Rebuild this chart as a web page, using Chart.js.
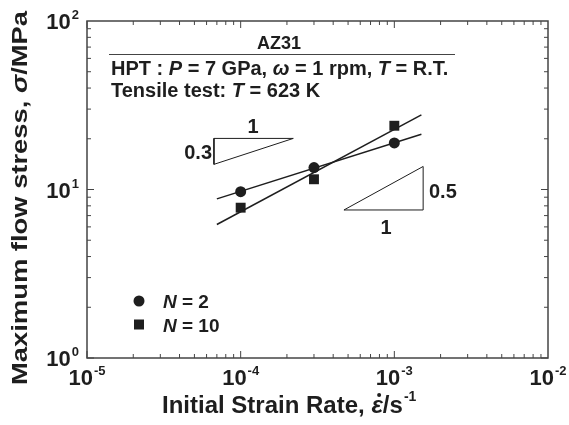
<!DOCTYPE html>
<html>
<head>
<meta charset="utf-8">
<script src="https://cdn.jsdelivr.net/npm/chart.js@4.4.1/dist/chart.umd.min.js"></script>
<style>
  html, body { margin: 0; padding: 0; background: #fff; }
  #wrap { width: 569px; height: 425px; }
</style>
</head>
<body>
<div id="wrap"><canvas id="myChart" width="569" height="425"></canvas></div>
<script>
// strain rates (s^-1) and maximum flow stress (MPa)
let rates = [1e-4, 3e-4, 1e-3];
let stressN2 = [9.7, 13.5, 18.9];
let stressN10 = [7.8, 11.5, 23.9];

// fitted lines
let fitRates = [7e-5, 1.5e-3];
let fitN2 = [8.8, 21.3];
let fitN10 = [6.2, 27.7];

// slope triangles
let tri03X = [6.7e-5, 2.2e-4, 6.7e-5, 6.7e-5];
let tri03Y = [14.1, 20.1, 20.1, 14.1];
let tri05X = [4.7e-4, 1.54e-3, 1.54e-3, 4.7e-4];
let tri05Y = [7.56, 7.56, 13.7, 7.56];

// axis decades
let xExp = [-5, -4, -3, -2];
let yExp = [0, 1, 2];

const ink = '#1e1e1e';
const FONT = '"Liberation Sans", Arial, sans-serif';

function pts(xs, ys) {
    return xs.map((x, i) => ({ x: x, y: ys[i] }));
}

// draw a run of [text, italic] parts, returns width
function runWidth(ctx, parts, size) {
    let w = 0;
    parts.forEach(p => {
        ctx.font = (p[1] ? 'italic ' : '') + 'bold ' + size + 'px ' + FONT;
        w += ctx.measureText(p[0]).width;
    });
    return w;
}
function drawRun(ctx, parts, x, y, size) {
    ctx.textAlign = 'left';
    parts.forEach(p => {
        ctx.font = (p[1] ? 'italic ' : '') + 'bold ' + size + 'px ' + FONT;
        ctx.fillText(p[0], x, y);
        x += ctx.measureText(p[0]).width;
    });
    return x;
}

function powLabel(ctx, e, x, y, align) {
    ctx.font = 'bold 22px ' + FONT;
    let wb = ctx.measureText('10').width;
    ctx.font = 'bold 13px ' + FONT;
    let we = ctx.measureText(String(e)).width;
    let total = wb + we + 1;
    let x0 = align === 'center' ? x - total / 2 : x - total;
    ctx.textAlign = 'left';
    ctx.font = 'bold 22px ' + FONT;
    ctx.fillText('10', x0, y);
    ctx.font = 'bold 13px ' + FONT;
    ctx.fillText(String(e), x0 + wb + 1, y - 10);
}

const decor = {
    id: 'decor',
    afterDatasetsDraw(chart) {
        const ctx = chart.ctx;
        const a = chart.chartArea;
        const xs = chart.scales.x, ys = chart.scales.y;
        ctx.save();

        // frame
        ctx.strokeStyle = '#444';
        ctx.lineWidth = 1.5;
        ctx.strokeRect(a.left, a.top, a.right - a.left, a.bottom - a.top);

        // inward ticks on all four sides
        ctx.lineWidth = 1;
        ctx.beginPath();
        for (let e = xExp[0]; e < xExp[xExp.length - 1]; e++) {
            for (let m = 1; m <= 9; m++) {
                let px = xs.getPixelForValue(m * Math.pow(10, e));
                let len = m === 1 ? 7 : 4;
                ctx.moveTo(px, a.bottom); ctx.lineTo(px, a.bottom - len);
                ctx.moveTo(px, a.top); ctx.lineTo(px, a.top + len);
            }
        }
        for (let e = yExp[0]; e < yExp[yExp.length - 1]; e++) {
            for (let m = 1; m <= 9; m++) {
                let py = ys.getPixelForValue(m * Math.pow(10, e));
                let len = m === 1 ? 7 : 4;
                ctx.moveTo(a.left, py); ctx.lineTo(a.left + len, py);
                ctx.moveTo(a.right, py); ctx.lineTo(a.right - len, py);
            }
        }
        ctx.stroke();

        ctx.fillStyle = ink;
        xExp.forEach(e => powLabel(ctx, e, xs.getPixelForValue(Math.pow(10, e)), 385, 'center'));
        yExp.forEach(e => powLabel(ctx, e, 79, ys.getPixelForValue(Math.pow(10, e)) + 8, 'right'));

        // x axis title
        let x = drawRun(ctx, [['Initial Strain Rate, ', false]], 162, 413, 24);
        ctx.font = 'italic bold 24px ' + FONT;
        let ew = ctx.measureText('\u03b5').width;
        ctx.fillText('\u03b5', x, 413);
        ctx.beginPath();
        ctx.arc(x + ew / 2 + 2, 395, 2, 0, Math.PI * 2);
        ctx.fill();
        x = drawRun(ctx, [['/s', false]], x + ew, 413, 24);
        ctx.font = 'bold 14px ' + FONT;
        ctx.fillText('-1', x + 1, 401);

        // y axis title, stretched along its length
        const yParts = [['Maximum flow stress, ', false], ['\u03c3', true], ['/MPa', false]];
        let yw = runWidth(ctx, yParts, 22);
        ctx.save();
        ctx.translate(27, 385);
        ctx.rotate(-Math.PI / 2);
        ctx.scale(374 / yw, 1);
        drawRun(ctx, yParts, 0, 0, 22);
        ctx.restore();

        // header
        ctx.font = 'bold 18px ' + FONT;
        ctx.textAlign = 'center';
        ctx.fillText('AZ31', 279, 49);
        ctx.lineWidth = 1;
        ctx.beginPath();
        ctx.moveTo(109, 54.5); ctx.lineTo(455, 54.5);
        ctx.stroke();
        drawRun(ctx, [['HPT : ', false], ['P', true], [' = 7 GPa, ', false], ['\u03c9', true],
            [' = 1 rpm, ', false], ['T', true], [' = R.T.', false]], 111, 75, 20);
        drawRun(ctx, [['Tensile test: ', false], ['T', true], [' = 623 K', false]], 111, 97, 20);

        // slope labels
        ctx.font = 'bold 20px ' + FONT;
        ctx.textAlign = 'center';
        ctx.fillText('1', 253, 133);
        ctx.fillText('1', 386, 234);
        ctx.textAlign = 'right';
        ctx.fillText('0.3', 212, 159);
        ctx.textAlign = 'left';
        ctx.fillText('0.5', 429, 198);

        // legend
        ctx.beginPath();
        ctx.arc(139, 301, 5.5, 0, Math.PI * 2);
        ctx.fill();
        ctx.fillRect(134, 319.5, 10, 10);
        drawRun(ctx, [['N', true], [' = 2', false]], 163, 308, 19);
        drawRun(ctx, [['N', true], [' = 10', false]], 163, 332, 19);

        ctx.restore();
    }
};

const lineStyle = { showLine: true, pointRadius: 0, borderColor: ink, fill: false };

let myChart = new Chart(document.getElementById('myChart').getContext('2d'), {
    type: 'scatter',
    data: {
        datasets: [
            Object.assign({ label: 'fit N=2', data: pts(fitRates, fitN2), borderWidth: 1.5 }, lineStyle),
            Object.assign({ label: 'fit N=10', data: pts(fitRates, fitN10), borderWidth: 1.5 }, lineStyle),
            Object.assign({ label: 'slope 0.3', data: pts(tri03X, tri03Y), borderWidth: 1 }, lineStyle),
            Object.assign({ label: 'slope 0.5', data: pts(tri05X, tri05Y), borderWidth: 1 }, lineStyle),
            {
                label: 'N = 2',
                data: pts(rates, stressN2),
                pointStyle: 'circle',
                pointRadius: 5.5,
                backgroundColor: ink,
                borderColor: ink,
                borderWidth: 0
            },
            {
                label: 'N = 10',
                data: pts(rates, stressN10),
                pointStyle: 'rect',
                pointRadius: 7,
                backgroundColor: ink,
                borderColor: ink,
                borderWidth: 0
            }
        ]
    },
    options: {
        responsive: false,
        animation: false,
        layout: { padding: { left: 87, top: 21, right: 21, bottom: 67 } },
        plugins: { legend: { display: false }, tooltip: { enabled: false } },
        scales: {
            x: { type: 'logarithmic', min: 1e-5, max: 1e-2, display: false },
            y: { type: 'logarithmic', min: 1, max: 100, display: false }
        }
    },
    plugins: [decor]
});
</script>
</body>
</html>
